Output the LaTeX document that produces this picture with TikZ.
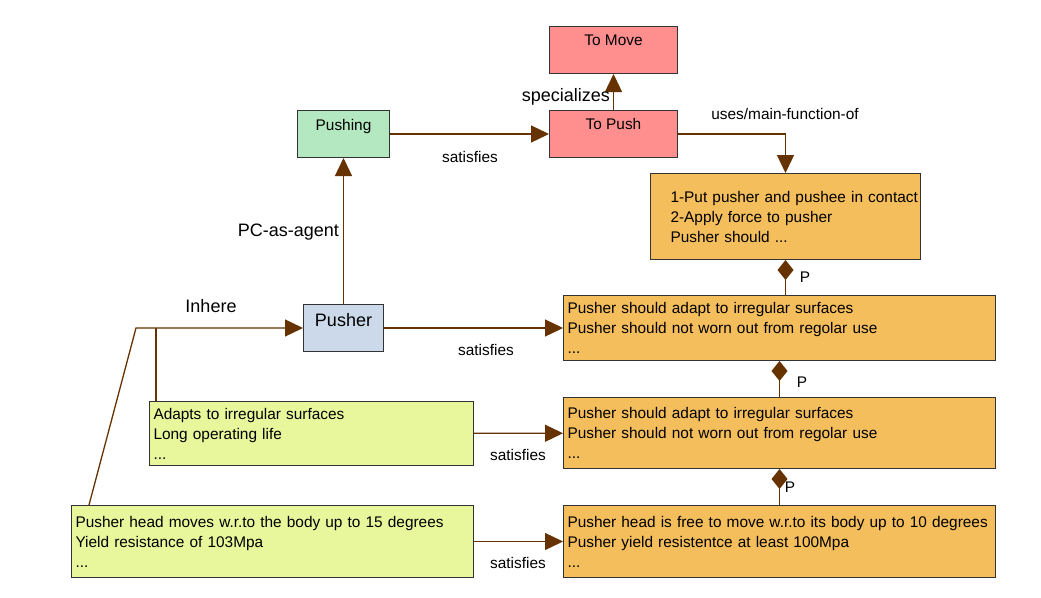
\documentclass[tikz,border=0pt]{standalone}
\usepackage{fontspec}
\setmainfont{Liberation Sans}
\usetikzlibrary{arrows.meta,positioning}

\definecolor{linkbrown}{RGB}{102,51,0}
\definecolor{funcpink}{RGB}{255,143,143}
\definecolor{procgreen}{RGB}{179,232,192}
\definecolor{partblue}{RGB}{204,217,234}
\definecolor{reqorange}{RGB}{245,190,92}
\definecolor{featyellow}{RGB}{232,247,155}

\begin{document}
\begin{tikzpicture}[x=1pt,y=-1pt,
    box/.style={draw=black!80,line width=1pt,inner sep=0,anchor=north west,
      font=\fontsize{15.4}{20}\selectfont},
    topbox/.style={box,text height=19pt,text depth=28pt},
    listbox/.style={box,align=left,inner xsep=4pt},
    link/.style={draw=linkbrown,line width=1.3pt},
    arr/.style={link,-{Triangle[length=18pt,width=17pt]}},
    part/.style={link,{Diamond[length=20pt,width=16pt]}-},
    lbl/.style={font=\fontsize{15.4}{18}\selectfont,inner sep=1pt},
    biglbl/.style={font=\fontsize{18}{21}\selectfont,inner sep=1pt}]
  \useasboundingbox (0,0) rectangle (1041,597);

  % functions and process
  \node[topbox,fill=funcpink,minimum width=128] (move) at (549,26) {To Move};
  \node[topbox,fill=funcpink,minimum width=128] (push) at (549,110) {To Push};
  \node[topbox,fill=procgreen,minimum width=92,text height=19.5pt,text depth=27.5pt]
    (pushing) at (297,110) {Pushing};
  \node[box,fill=partblue,minimum width=80,text height=22pt,text depth=25pt,
    font=\fontsize{18}{21}\selectfont] (pusher) at (303,304) {Pusher};

  % requirement boxes
  \node[listbox,fill=reqorange,text width=262,minimum height=86] (req0) at (650,173)
    {\mbox{\hspace*{16pt}1-Put pusher and pushee in contact}\\
     \mbox{\hspace*{16pt}2-Apply force to pusher}\\
     \mbox{\hspace*{16pt}Pusher should ...}};
  \node[listbox,fill=reqorange,text width=424,minimum height=65] (req1) at (563,295)
    {Pusher should adapt to irregular surfaces\\
     Pusher should not worn out from regolar use\\ ...};
  \node[listbox,fill=reqorange,text width=424,minimum height=71] (req2) at (563,397)
    {Pusher should adapt to irregular surfaces\\
     Pusher should not worn out from regolar use\\ ...};
  \node[listbox,fill=reqorange,text width=424,minimum height=72] (req3) at (563,505)
    {Pusher head is free to move w.r.to its body up to 10 degrees\\
     Pusher yield resistentce at least 100Mpa\\ ...};

  % feature boxes
  \node[listbox,fill=featyellow,text width=316,minimum height=64] (feat1) at (149,401)
    {Adapts to irregular surfaces\\ Long operating life\\ ...};
  \node[listbox,fill=featyellow,text width=394,minimum height=72] (feat2) at (71,505)
    {Pusher head moves w.r.to the body up to 15 degrees\\
     Yield resistance of 103Mpa\\ ...};

  \coordinate (jA) at (136,328);
  \coordinate (jB) at (156,328);

  % connectors
  \draw[arr] (push) -- (move);
  \draw[arr] (pushing) -- (push);
  \draw[arr] (push.east) -| (req0.north);
  \draw[arr] (pusher) -- (pushing);
  \draw[arr] (pusher) -- (req1);
  \draw[arr] (feat1) -- (req2);
  \draw[arr] (feat2) -- (req3);
  \draw[arr] ([xshift=18pt]feat2.north west) -- (jA) -- (pusher.west);
  \draw[link] ([xshift=7pt]feat1.north west) -- (jB);
  \draw[part] (req0.south) -- (req0.south |- req1.north);
  \draw[part] (req1.south) -- (req2.north);
  \draw[part] (req2.south) -- (req3.north);

  % labels
  \node[biglbl,anchor=east] (spec) at (611,97) {specializes};
  \node[lbl] (uses) at (785,114) {uses/main-function-of};
  \node[lbl] (sat1) at (470,157) {satisfies};
  \node[lbl] (sat2) at (486,350) {satisfies};
  \node[lbl] (sat3) at (518,455) {satisfies};
  \node[lbl] (sat4) at (518,563) {satisfies};
  \node[biglbl,anchor=east] (agent) at (340,232) {PC-as-agent};
  \node[biglbl] (inhere) at (211,306) {Inhere};
  \node[lbl] (p1) at (805,277) {P};
  \node[lbl] (p2) at (802,382) {P};
  \node[lbl] (p3) at (790,487) {P};
\end{tikzpicture}
\end{document}
